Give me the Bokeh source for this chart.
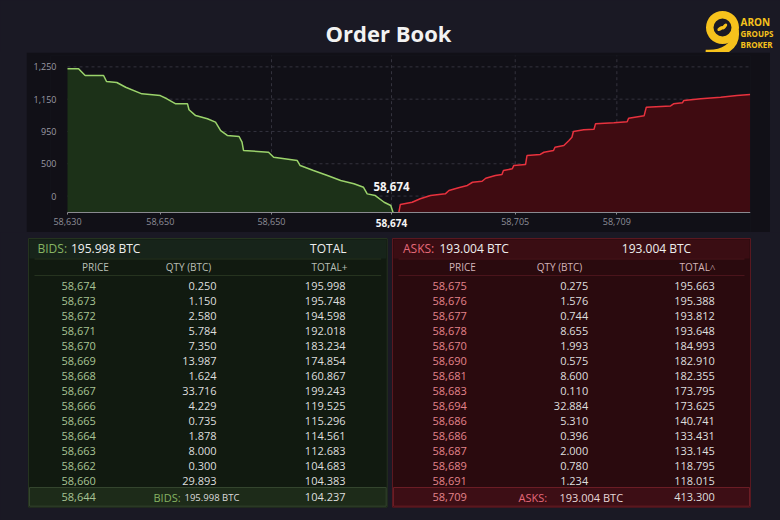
from bokeh.plotting import figure
from bokeh.layouts import column, row
from bokeh.models import Range1d, FixedTicker, ColumnDataSource, Label, Spacer
from bokeh.embed import file_html
from bokeh.resources import INLINE
from bokeh.core.properties import value

FONT = "Open Sans"
PAGE_BG = "#1a1924"
CHART_BG = "#111017"
LOGO = "#f6c21c"

# ---------------- depth curve (price, cumulative depth) ----------------
bid_curve_price = [58630.0, 58631.5, 58632.4, 58634.9, 58635.3, 58636.7, 58637.9, 58640.1,
                   58642.6, 58643.5, 58644.7, 58646.3, 58646.5, 58647.4, 58649.0, 58650.1,
                   58650.8, 58651.7, 58653.3, 58653.7, 58653.9, 58657.3, 58658.0, 58661.2,
                   58661.6, 58663.4, 58665.3, 58667.1, 58668.9, 58670.2, 58670.7, 58671.8,
                   58673.0, 58673.9, 58674.2]
bid_curve_depth = [1110, 1110, 1058, 1058, 1012, 1004, 967, 916,
                   903, 878, 839, 839, 793, 748, 723, 697,
                   632, 594, 586, 542, 478, 464, 426, 400,
                   361, 323, 284, 245, 220, 193, 142, 129,
                   77, 52, 0]

ask_curve_price = [58675.0, 58675.2, 58676.8, 58677.9, 58679.3, 58681.3, 58681.8, 58683.1,
                   58684.3, 58685.0, 58686.3, 58686.8, 58688.1, 58689.0, 58689.2, 58690.4,
                   58690.6, 58692.2, 58692.4, 58694.2, 58694.7, 58696.0, 58696.2, 58697.4,
                   58698.1, 58698.5, 58698.7, 58700.1, 58701.5, 58701.7, 58704.2, 58706.0,
                   58706.2, 58708.3, 58708.6, 58711.9, 58712.3, 58713.5, 58713.7, 58716.0,
                   58718.7, 58720.9, 58722.7]
ask_curve_depth = [0, 60, 77, 104, 129, 142, 168, 189,
                   207, 232, 240, 263, 284, 292, 323, 336,
                   361, 369, 439, 447, 464, 478, 503, 516,
                   555, 580, 625, 638, 642, 684, 692, 700,
                   728, 746, 813, 823, 839, 847, 865, 878,
                   890, 903, 911]

price_lo, price_hi = 58630, 58722.75
mid_price = 58674
mid_label = "58,674"

x_tick_pos = [58630, 58642.6, 58657.7, 58674, 58690.8, 58704.6]
x_tick_labels = ["58,630", "58,650", "58,650", "58,674", "58,705", "58,709"]
x_grid_pos = [58657.7, 58674, 58690.8, 58704.6]
y_tick_pos = [125, 375, 625, 875, 1125]
y_tick_labels = ["0", "500", "950", "1,150", "1,250"]

# ---------------- order table ----------------
bid_price = [58674, 58673, 58672, 58671, 58670, 58669, 58668,
             58667, 58666, 58665, 58664, 58663, 58662, 58660]
bid_qty = [0.250, 1.150, 2.580, 5.784, 7.350, 13.987, 1.624,
           33.716, 4.229, 0.735, 1.878, 8.000, 0.300, 29.893]
bid_total = [195.998, 195.748, 194.598, 192.018, 183.234, 174.854, 160.867,
             199.243, 119.525, 115.296, 114.561, 112.683, 104.683, 104.383]
bid_footer_price = 58644
bid_footer_total = 104.237
bid_sum = "195.998 BTC"

ask_price = [58675, 58676, 58677, 58678, 58670, 58690, 58681,
             58683, 58694, 58686, 58686, 58687, 58689, 58691]
ask_qty = [0.275, 1.576, 0.744, 8.655, 1.993, 0.575, 8.600,
           0.110, 32.884, 5.310, 0.396, 2.000, 0.780, 1.234]
ask_total = [195.663, 195.388, 193.812, 193.648, 184.993, 182.910, 182.355,
             173.795, 173.625, 140.741, 133.431, 133.145, 118.795, 118.015]
ask_footer_price = 58709
ask_footer_total = 413.300
ask_sum = "193.004 BTC"

BG_STYLE = {"background-color": PAGE_BG}


def txt(fig, x, y, s, size, color, align="left", bold=False, baseline="middle"):
    fig.text(x=[x], y=[y], text=[s], text_font=value(FONT), text_font_size=size,
             text_color=color, text_align=align, text_baseline=baseline,
             text_font_style="bold" if bold else "normal")


# ---------------- header: title + logo ----------------
head = figure(width=780, height=52, x_range=Range1d(0, 780), y_range=Range1d(52, 0),
              min_border=0, toolbar_location=None, output_backend="svg",
              x_axis_location=None, y_axis_location=None,
              background_fill_color=PAGE_BG, border_fill_color=PAGE_BG)
head.grid.visible = False
head.outline_line_color = None
txt(head, 388, 32, "Order Book", "22px", "#f2f2f2", align="center", bold=True)

# logo mark: a bold "9" built from a ring and a sweeping tail
head.annulus(x=[722], y=[27], inner_radius=9, outer_radius=16.5,
             fill_color=LOGO, line_color=None)
head.bezier(x0=[734.5], y0=[30], cx0=[737], cy0=[46], cx1=[722], cy1=[54], x1=[705], y1=[53],
            line_color=LOGO, line_width=7.5)
head.ellipse(x=[720, 724], y=[28, 26], width=[7, 7], height=[3.5, 3.5], angle=[0.6, 0.9],
             fill_color=LOGO, line_color=None)
txt(head, 740, 21, "ARON", "10px", LOGO, bold=True)
txt(head, 740, 33, "GROUPS", "8px", LOGO, bold=True)
txt(head, 740, 44, "BROKER", "8px", LOGO, bold=True)

# ---------------- depth chart ----------------
px_per_unit = 7.3636
pad_units = 17 / px_per_unit
chart = figure(width=744, height=180,
               x_range=Range1d(price_lo - pad_units, price_hi), y_range=Range1d(-157, 1213),
               min_border_left=24, min_border_right=20, min_border_top=3, min_border_bottom=0,
               toolbar_location=None, output_backend="svg",
               background_fill_color=CHART_BG, border_fill_color=CHART_BG)
chart.outline_line_color = None

# dashed guide lines, drawn only over the plotted price span
chart.segment(x0=x_grid_pos, x1=x_grid_pos, y0=0, y1=1213,
              line_color="#34333e", line_dash="3 3", line_width=1, level="underlay")
chart.segment(x0=price_lo, x1=price_hi, y0=y_tick_pos, y1=y_tick_pos,
              line_color="#34333e", line_dash="3 3", line_width=1, level="underlay")

chart.varea(x=bid_curve_price, y1=0, y2=bid_curve_depth, fill_color="#1c3118")
chart.line(bid_curve_price, bid_curve_depth, line_color="#9bd36b", line_width=1.5)
chart.varea(x=ask_curve_price, y1=0, y2=ask_curve_depth, fill_color="#3f0b11")
chart.line(ask_curve_price, ask_curve_depth, line_color="#e8323e", line_width=1.5)

x_over = dict(zip(x_tick_pos, x_tick_labels))
x_over[mid_price] = ""
chart.xaxis.fixed_location = 0
chart.xaxis.bounds = (price_lo, price_hi)
chart.xaxis.ticker = FixedTicker(ticks=x_tick_pos)
chart.xaxis.major_label_overrides = x_over
chart.xaxis.axis_line_color = "#8a8a90"
chart.xaxis.major_tick_line_color = "#8a8a90"
chart.xaxis.major_tick_in = 0
chart.xaxis.major_tick_out = 2
chart.xaxis.minor_tick_line_color = None
chart.xaxis.major_label_standoff = 4
chart.xaxis.major_label_text_color = "#8e8e98"
chart.xaxis.major_label_text_font = FONT
chart.xaxis.major_label_text_font_size = "9px"

chart.yaxis.ticker = FixedTicker(ticks=y_tick_pos)
chart.yaxis.major_label_overrides = dict(zip(y_tick_pos, y_tick_labels))
chart.yaxis.axis_line_color = None
chart.yaxis.major_tick_line_color = None
chart.yaxis.minor_tick_line_color = None
chart.yaxis.major_label_standoff = -12
chart.yaxis.major_label_text_color = "#9b9ba5"
chart.yaxis.major_label_text_font = FONT
chart.yaxis.major_label_text_font_size = "9px"

chart.grid.visible = False

chart.add_layout(Label(x=mid_price, y=199, text=mid_label, text_font=FONT,
                       text_font_size="11.5px", text_font_style="bold", text_color="#f4f4f4",
                       text_align="center", text_baseline="middle"))
chart.add_layout(Label(x=mid_price, y=-80, text=mid_label, text_font=FONT,
                       text_font_size="10px", text_font_style="bold", text_color="#f4f4f4",
                       text_align="center", text_baseline="middle"))

chart_row = row(Spacer(width=26, height=180, styles=BG_STYLE),
                chart,
                Spacer(width=10, height=180, styles=BG_STYLE),
                spacing=0, styles=BG_STYLE)

# ---------------- order book tables ----------------
tbl = figure(width=780, height=288, x_range=Range1d(0, 780), y_range=Range1d(520, 232),
             min_border=0, toolbar_location=None, output_backend="svg",
             x_axis_location=None, y_axis_location=None,
             background_fill_color=PAGE_BG, border_fill_color=PAGE_BG)
tbl.grid.visible = False
tbl.outline_line_color = None

L0, L1 = 28, 386.7
R0, R1 = 392, 750
TOP, BOT = 238, 506.7

# panel bodies, header strips and footer strips
tbl.quad(left=[L0, R0], right=[L1, R1], top=[TOP, TOP], bottom=[BOT, BOT],
         fill_color=["#111a10", "#2a0a0e"], line_color=["#25331f", "#5a1820"], line_width=1)
tbl.quad(left=[L0 + 1, R0 + 1], right=[L1 - 1, R1 - 1], top=[TOP + 1, TOP + 1], bottom=[258, 258],
         fill_color=["#17241a", "#3a0d13"], line_color=None)
tbl.quad(left=[L0 + 1, R0 + 1], right=[L1 - 1, R1 - 1], top=[487, 487], bottom=[BOT - 1, BOT - 1],
         fill_color=["#1d2b19", "#3d0e15"], line_color=["#34452e", "#6b1d25"], line_width=1)
tbl.segment(x0=[L0 + 6, L0 + 6, R0 + 6, R0 + 6], x1=[L1 - 6, L1 - 6, R1 - 6, R1 - 6],
            y0=[258.5, 275, 258.5, 275], y1=[258.5, 275, 258.5, 275],
            line_color=["#26331f", "#26331f", "#4a141b", "#4a141b"], line_width=1)

row_y = [285 + 15.05 * i for i in range(len(bid_price))]


def fmt_price(v):
    return f"{v:,}"


def fmt_qty(v):
    return f"{v:.3f}"


def table_side(prices, qtys, totals, x_price, x_qty, x_total, price_color):
    src = ColumnDataSource(dict(
        y=row_y,
        price=[fmt_price(v) for v in prices],
        qty=[fmt_qty(v) for v in qtys],
        total=[fmt_qty(v) for v in totals],
    ))
    common = dict(y="y", source=src, text_font=value(FONT), text_font_size="11px",
                  text_baseline="middle")
    tbl.text(x=x_price, text="price", text_color=price_color, text_align="left", **common)
    tbl.text(x=x_qty, text="qty", text_color="#dedede", text_align="right", **common)
    tbl.text(x=x_total, text="total", text_color="#dedede", text_align="right", **common)


# bids
txt(tbl, 37, 248, "BIDS:", "12px", "#86b463")
txt(tbl, 70.5, 248, bid_sum, "12px", "#eeeeee")
txt(tbl, 346, 248, "TOTAL", "12px", "#eeeeee", align="right")
txt(tbl, 95, 266, "PRICE", "10px", "#b9bfb5", align="center")
txt(tbl, 188, 266, "QTY (BTC)", "10px", "#b9bfb5", align="center")
txt(tbl, 347, 266, "TOTAL+", "10px", "#b9bfb5", align="right")
table_side(bid_price, bid_qty, bid_total, 61, 216, 345, "#a8c494")
txt(tbl, 61, 496.5, fmt_price(bid_footer_price), "11px", "#a8c494")
txt(tbl, 153, 496.5, "BIDS:", "11px", "#86b463")
txt(tbl, 184, 496.5, bid_sum, "9.5px", "#dcdcdc")
txt(tbl, 345, 496.5, fmt_qty(bid_footer_total), "11px", "#dedede", align="right")

# asks
txt(tbl, 402.5, 248, "ASKS:", "12px", "#e5697a")
txt(tbl, 439, 248, ask_sum, "12px", "#eeeeee")
txt(tbl, 656, 248, ask_sum, "12px", "#eeeeee", align="center")
txt(tbl, 462, 266, "PRICE", "10px", "#d3b4b8", align="center")
txt(tbl, 559, 266, "QTY (BTC)", "10px", "#d3b4b8", align="center")
txt(tbl, 715, 266, "TOTAL\u02c4", "10px", "#d3b4b8", align="right")
table_side(ask_price, ask_qty, ask_total, 432, 587.7, 714.3, "#e3838b")
txt(tbl, 432, 496.5, fmt_price(ask_footer_price), "11px", "#e3838b")
txt(tbl, 518, 496.5, "ASKS:", "11px", "#e5697a")
txt(tbl, 559, 496.5, ask_sum, "11px", "#e6d6d8")
txt(tbl, 714.3, 496.5, fmt_qty(ask_footer_total), "11px", "#dedede", align="right")

page = column(head, chart_row, tbl, spacing=0, styles=BG_STYLE)

open("out.html", "w").write(file_html(page, INLINE))
